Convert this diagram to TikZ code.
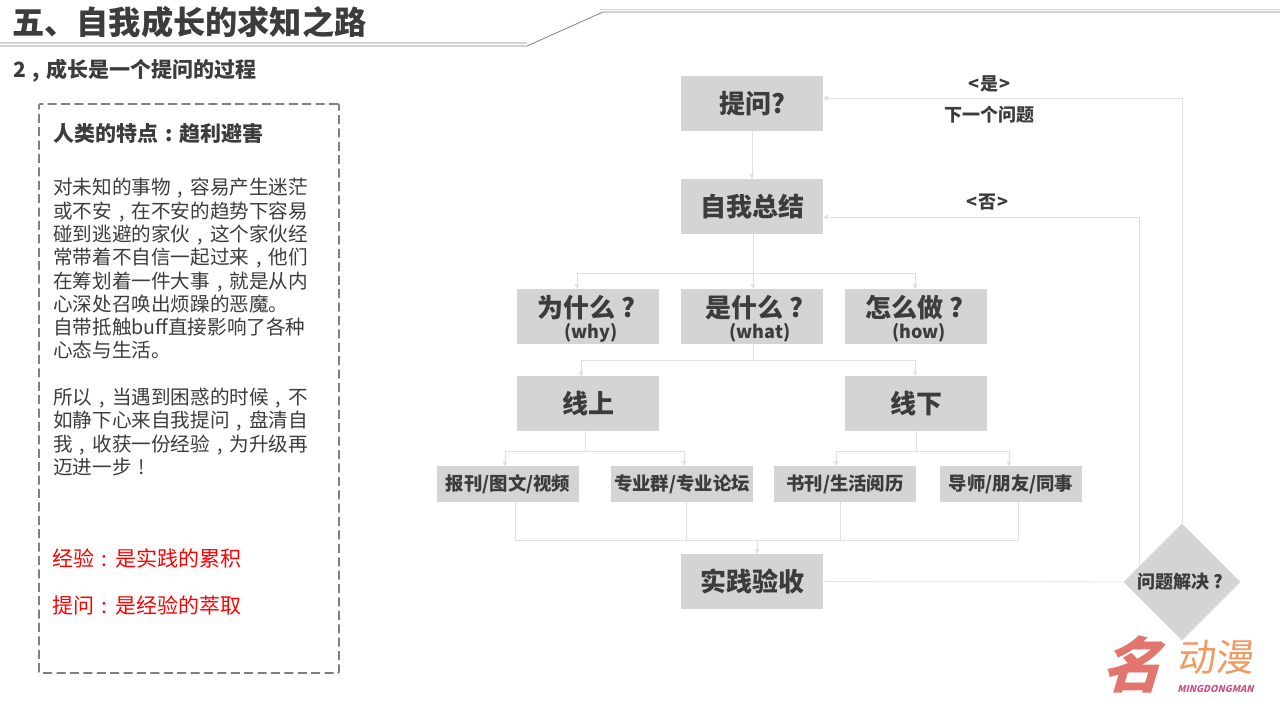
\documentclass[tikz,border=0pt]{standalone}
\usepackage{fontspec}
\setmainfont{Noto Sans CJK SC}
\usetikzlibrary{shapes.geometric,calc,arrows}

\definecolor{inkgray}{HTML}{3C3C3C}
\definecolor{boxgray}{HTML}{D4D4D4}
\definecolor{linegray}{HTML}{E0E0E0}
\definecolor{logopeach}{HTML}{F09A62}
\definecolor{logorose}{HTML}{E2766F}
\definecolor{logopink}{HTML}{CC5083}

% punctuation centred in a full square
\newcommand{\pcomma}{\makebox[1em][c]{,}}
\newcommand{\pcolon}{\makebox[1em][c]{:}}
\newcommand{\pquest}{\makebox[1em][c]{?}}
\newcommand{\pbang}{\makebox[1em][c]{!}}

\tikzset{
  bigbox/.style={shape=rectangle,fill=boxgray,draw=none,text=inkgray,inner sep=0pt,
                 minimum width=142pt,minimum height=55pt,
                 font=\fontsize{26}{30}\selectfont\bfseries},
  leafbox/.style={bigbox,minimum height=36pt,font=\fontsize{18.4}{20}\selectfont\bfseries},
  boxhead/.style={text=inkgray,inner sep=0pt,font=\fontsize{26}{30}\selectfont\bfseries},
  note/.style={text=inkgray,inner sep=0pt,font=\fontsize{18}{20}\selectfont\bfseries},
  link/.style={-,draw=linegray,thick},
  flow/.style={->,>=stealth',draw=linegray,thick},
}

\begin{document}
\begin{tikzpicture}[x=1pt,y=-1pt,node distance=164pt]
  \useasboundingbox (0,0) rectangle (1280,720);

  % header rule
  \coordinate (ruleA) at (0,43);
  \coordinate (ruleB) at (527,43);
  \coordinate (ruleC) at (600,9);
  \coordinate (ruleD) at (1280,9);
  \coordinate (ruleE) at (0,46);
  \coordinate (ruleF) at (527,46);
  \coordinate (ruleG) at (603,12);
  \coordinate (ruleH) at (1280,12);
  \draw[draw=boxgray,line width=1.6pt] (ruleA) -- (ruleB);
  \draw[draw=boxgray,line width=1pt] (ruleC) -- (ruleD);
  \draw[draw=gray,line width=0.8pt] (ruleE) -- (ruleF) -- (ruleG) -- (ruleH);

  \node[anchor=west,text=inkgray,inner sep=0pt,font=\fontsize{32.2}{36}\selectfont\bfseries] (title) at (12,22) {五、自我成长的求知之路};
  \node[anchor=west,text=inkgray,inner sep=0pt,font=\fontsize{21}{24}\selectfont\bfseries] (subtitle) at (13,71) {2\pcomma 成长是一个提问的过程};

  % left panel
  \node[draw=gray,line width=1.6pt,dash pattern=on 9pt off 4.4pt,rounded corners=1pt,minimum width=300pt,minimum height=569pt,inner sep=0pt] (panel) at (189,388.5) {};
  \node[anchor=west,text=inkgray,inner sep=0pt,font=\fontsize{21}{24}\selectfont\bfseries] (panelhead) at (53,134) {人类的特点\pcolon 趋利避害};
  \node[anchor=north west,align=left,text=inkgray,inner sep=0pt,font=\fontsize{19.6}{23.3}\selectfont] (paneltext) at (53,178) {对未知的事物\pcomma 容易产生迷茫\\或不安\pcomma 在不安的趋势下容易\\碰到逃避的家伙\pcomma 这个家伙经\\常带着不自信一起过来\pcomma 他们\\在筹划着一件大事\pcomma 就是从内\\心深处召唤出烦躁的恶魔。\\自带抵触buff直接影响了各种\\心态与生活。\\[23.3pt]所以\pcomma 当遇到困惑的时候\pcomma 不\\如静下心来自我提问\pcomma 盘清自\\我\pcomma 收获一份经验\pcomma 为升级再\\迈进一步\pbang};
  \node[anchor=west,text=red,inner sep=0pt,font=\fontsize{21}{24}\selectfont] (redA) at (52,558) {经验\pcolon 是实践的累积};
  \node[anchor=west,text=red,inner sep=0pt,font=\fontsize{21}{24}\selectfont] (redB) at (52,605) {提问\pcolon 是经验的萃取};

  % flow boxes
  \node[bigbox] (ask) at (752,103.5) {提问?};
  \node[bigbox] (summary) at (752,206.5) {自我总结};
  \node[bigbox] (what) at (752,316.5) {};
  \node[bigbox] (why) [left of=what] {};
  \node[bigbox] (how) [right of=what] {};
  \node[boxhead] (whyA) at (589,308) {为什么\pquest};
  \node[boxhead] (whatA) at (757,308) {是什么\pquest};
  \node[boxhead] (howA) at (917,308) {怎么做\pquest};
  \node[note] (whyB) at (591,333) {(why)};
  \node[note] (whatB) at (760,333) {(what)};
  \node[note] (howB) at (919,333) {(how)};
  \node[bigbox] (online) at (588,403.5) {线上};
  \node[bigbox] (offline) at (916,403.5) {线下};
  \node[leafbox] (leafA) at (508,484) {报刊/图文/视频};
  \node[leafbox] (leafB) at (682,484) {专业群/专业论坛};
  \node[leafbox] (leafC) at (845,484) {书刊/生活阅历};
  \node[leafbox] (leafD) at (1011,484) {导师/朋友/同事};
  \node[bigbox] (practice) at (752,581.5) {实践验收};
  \node[shape=diamond,aspect=1,fill=boxgray,draw=none,text=inkgray,inner sep=0pt,minimum width=117pt,minimum height=117pt,font=\fontsize{18}{20}\selectfont\bfseries] (solved) at (1182,582) {问题解决\pquest};

  \node[note] (yes) at (989,84) {<\kern1pt 是\kern1pt >};
  \node[note] (next) at (989,115) {下一个问题};
  \node[note] (no) at (987,202) {<\kern1pt 否\kern1pt >};

  % junctions
  \coordinate (splitA) at (753,273);
  \coordinate (splitB) at (753,360);
  \coordinate (splitC) at (585,451);
  \coordinate (splitD) at (916,451);
  \coordinate (mergeA) at (757,540);

  \draw[flow] (ask) -- (summary);
  \draw[link] ([xshift=1]summary.south) -- (splitA);
  \draw[flow] (splitA) -| ([xshift=-175]what.north);
  \draw[flow] (splitA) -- ([xshift=1]what.north);
  \draw[flow] (splitA) -| ([xshift=-1]how.north);
  \draw[link] ([xshift=1]what.south) -- (splitB);
  \draw[flow] (splitB) -| ([xshift=-7]online.north);
  \draw[flow] (splitB) -| ([xshift=-1]offline.north);
  \draw[link] ([xshift=-3]online.south) -- (splitC);
  \draw[flow] (splitC) -| ([xshift=-3]leafA.north);
  \draw[flow] (splitC) -| ([xshift=2]leafB.north);
  \draw[link] (offline.south) -- (splitD);
  \draw[flow] (splitD) -| ([xshift=-9]leafC.north);
  \draw[flow] (splitD) -| ([xshift=-2]leafD.north);
  \draw[link] ([xshift=7]leafA.south) |- (mergeA);
  \draw[link] ([xshift=4]leafB.south) |- (mergeA);
  \draw[link] ([xshift=-5]leafC.south) |- (mergeA);
  \draw[link] ([xshift=7]leafD.south) |- (mergeA);
  \draw[flow] (mergeA) -- ([xshift=5]practice.north);
  \draw[link] (practice) -- (solved);
  \draw[flow] (solved.north) |- ([yshift=5.5]ask.east);
  \draw[flow] ($(solved.north west)!0.44!(solved.west)$) |- ([yshift=-10.5]summary.east);

  % logo
  \node[text=logorose,inner sep=0pt,font=\fontsize{60}{60}\selectfont\bfseries,xslant=0.3] (logoA) at (1138,664) {名};
  \node[anchor=west,text=logopeach,inner sep=0pt,font=\fontsize{38}{38}\selectfont,xslant=0.1] (logoB) at (1179,657) {动漫};
  \node[anchor=west,text=logopink,inner sep=0pt,font=\fontsize{9.5}{10}\selectfont\bfseries,xslant=0.25] (logoC) at (1178,689) {MINGDONGMAN};
\end{tikzpicture}
\end{document}
